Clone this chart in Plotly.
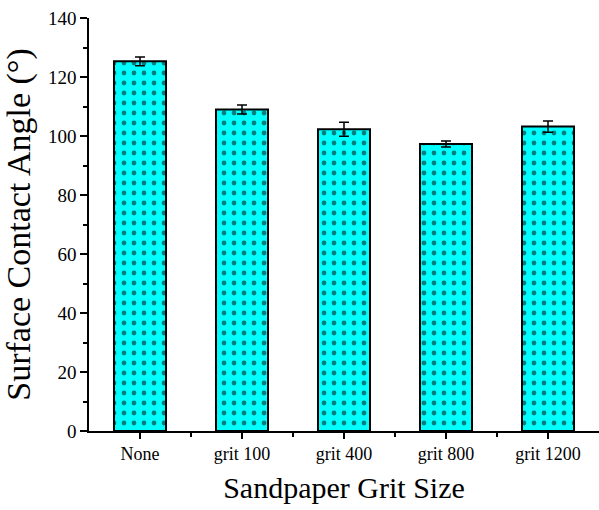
import plotly.graph_objects as go

categories = ["None", "grit 100", "grit 400", "grit 800", "grit 1200"]
angles = [125.3, 109.0, 102.3, 97.3, 103.2]
errors = [1.5, 1.5, 2.4, 1.0, 1.9]

xpos = list(range(len(categories)))

fig = go.Figure()
fig.add_trace(go.Bar(
    x=xpos, y=angles, width=0.51,
    marker=dict(
        color="#00FFFF",
        line=dict(color="black", width=2),
        pattern=dict(shape=".", fgcolor="black", bgcolor="#00FFFF",
                     size=10, solidity=0.18, fillmode="overlay"),
    ),
    error_y=dict(type="data", array=errors, visible=True,
                 color="black", thickness=1.5, width=5),
    showlegend=False,
))

font_family = "Liberation Serif, Times New Roman, serif"
fig.update_layout(
    width=599, height=510,
    margin=dict(l=89, r=0, t=18, b=79),
    plot_bgcolor="white", paper_bgcolor="white",
    font=dict(family=font_family, color="black"),
)
fig.update_xaxes(
    range=[-0.5, 4.5],
    tickmode="array", tickvals=xpos, ticktext=categories,
    tickfont=dict(size=18, family=font_family),
    ticks="outside", ticklen=6, tickwidth=1.5, tickcolor="black",
    minor=dict(tickmode="array", tickvals=[0.5, 1.5, 2.5, 3.5],
               ticks="outside", ticklen=4, tickwidth=1.5, tickcolor="black"),
    showline=True, linecolor="black", linewidth=1.5,
    showgrid=False, zeroline=False,
    title=dict(text="Sandpaper Grit Size", font=dict(size=30, family=font_family), standoff=14),
)
fig.update_yaxes(
    range=[0, 140],
    tickmode="linear", tick0=0, dtick=20,
    tickfont=dict(size=19, family=font_family),
    ticks="outside", ticklen=7, tickwidth=1.5, tickcolor="black",
    minor=dict(dtick=10, ticks="outside", ticklen=4, tickwidth=1.5, tickcolor="black"),
    showline=True, linecolor="black", linewidth=1.5,
    showgrid=False, zeroline=False,
    title=dict(text="Surface Contact Angle (°)", font=dict(size=34, family=font_family), standoff=8),
)

fig.write_html("out.html")
